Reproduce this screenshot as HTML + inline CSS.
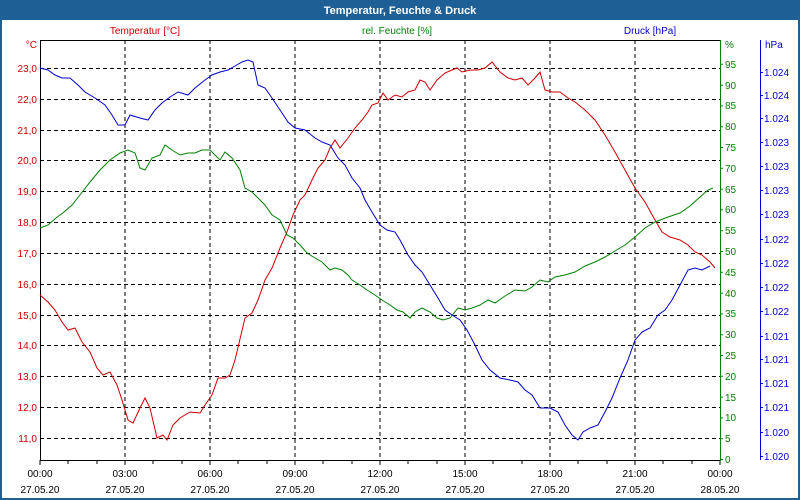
<!DOCTYPE html>
<html><head><meta charset="utf-8"><style>
body{margin:0;background:#fff}
svg{display:block;font-family:"Liberation Sans",sans-serif}
</style></head><body>
<svg width="800" height="500" viewBox="0 0 800 500" xmlns="http://www.w3.org/2000/svg">
<rect x="0" y="0" width="800" height="500" fill="#1e5f96"/>
<rect x="2" y="20" width="796" height="478" fill="#fff"/>
<text x="400" y="14" fill="#fff" font-size="11" font-weight="bold" text-anchor="middle">Temperatur, Feuchte &amp; Druck</text>
<text x="145" y="34" fill="#cc0000" font-size="10" text-anchor="middle">Temperatur [°C]</text>
<text x="397" y="34" fill="#008000" font-size="10" text-anchor="middle">rel. Feuchte [%]</text>
<text x="650" y="34" fill="#0000cc" font-size="10" text-anchor="middle">Druck [hPa]</text>
<g stroke="#000" stroke-dasharray="4,3" stroke-width="1">
<path d="M125 40V460M210 40V460M295 40V460M380 40V460M465 40V460M550 40V460M635 40V460"/>
<path d="M40 68.5H720M40 99.5H720M40 130.5H720M40 160.5H720M40 191.5H720M40 222.5H720M40 253.5H720M40 284.5H720M40 315.5H720M40 345.5H720M40 376.5H720M40 407.5H720M40 438.5H720"/>
</g>
<path d="M40.5 40V460.5H720M40 40.5H720" stroke="#000" fill="none"/>
<g stroke="#000"><path d="M68 460v4M97 460v4M153 460v4M182 460v4M238 460v4M267 460v4M323 460v4M352 460v4M408 460v4M437 460v4M493 460v4M522 460v4M578 460v4M607 460v4M663 460v4M692 460v4M40 460v5M125 460v5M210 460v5M295 460v5M380 460v5M465 460v5M550 460v5M635 460v5M720 460v5"/></g>
<g fill="#cc0000" font-size="10" text-anchor="end">
<text x="37" y="48">°C</text>
<text x="37" y="72">23,0</text><text x="37" y="103">22,0</text><text x="37" y="134">21,0</text><text x="37" y="164">20,0</text><text x="37" y="195">19,0</text><text x="37" y="226">18,0</text><text x="37" y="257">17,0</text><text x="37" y="288">16,0</text><text x="37" y="319">15,0</text><text x="37" y="349">14,0</text><text x="37" y="380">13,0</text><text x="37" y="411">12,0</text><text x="37" y="442">11,0</text>
</g>
<g fill="#000" font-size="10" text-anchor="middle">
<text x="40" y="477">00:00</text><text x="125" y="477">03:00</text><text x="210" y="477">06:00</text><text x="295" y="477">09:00</text><text x="380" y="477">12:00</text><text x="465" y="477">15:00</text><text x="550" y="477">18:00</text><text x="635" y="477">21:00</text><text x="720" y="477">00:00</text>
<text x="40" y="493">27.05.20</text><text x="125" y="493">27.05.20</text><text x="210" y="493">27.05.20</text><text x="295" y="493">27.05.20</text><text x="380" y="493">27.05.20</text><text x="465" y="493">27.05.20</text><text x="550" y="493">27.05.20</text><text x="635" y="493">27.05.20</text><text x="720" y="493">28.05.20</text>
</g>
<path d="M720.5 40V461" stroke="#008000"/>
<g stroke="#008000"><path d="M720 459.5h3M720 438.7h3M720 417.9h3M720 397.1h3M720 376.3h3M720 355.5h3M720 334.7h3M720 313.9h3M720 293.1h3M720 272.3h3M720 251.5h3M720 230.7h3M720 209.9h3M720 189.1h3M720 168.3h3M720 147.5h3M720 126.7h3M720 105.9h3M720 85.1h3M720 64.3h3"/></g>
<g fill="#008000" font-size="10">
<text x="725" y="48">%</text>
<text x="725" y="463">0</text><text x="725" y="442">5</text><text x="725" y="421">10</text><text x="725" y="401">15</text><text x="725" y="380">20</text><text x="725" y="359">25</text><text x="725" y="338">30</text><text x="725" y="317">35</text><text x="725" y="297">40</text><text x="725" y="276">45</text><text x="725" y="255">50</text><text x="725" y="234">55</text><text x="725" y="213">60</text><text x="725" y="193">65</text><text x="725" y="172">70</text><text x="725" y="151">75</text><text x="725" y="130">80</text><text x="725" y="109">85</text><text x="725" y="89">90</text><text x="725" y="68">95</text>
</g>
<path d="M760.5 40V460" stroke="#0000cc"/>
<g stroke="#0000cc"><path d="M760 72.5h3M760 95.5h3M760 118.5h3M760 142.5h3M760 166.5h3M760 190.5h3M760 214.5h3M760 239.5h3M760 263.5h3M760 287.5h3M760 311.5h3M760 336.5h3M760 359.5h3M760 383.5h3M760 407.5h3M760 432.5h3M760 456.5h3"/></g>
<g fill="#0000cc" font-size="10">
<text x="765" y="48">hPa</text>
<text x="764" y="76">1.024</text><text x="764" y="99">1.024</text><text x="764" y="122">1.024</text><text x="764" y="146">1.023</text><text x="764" y="170">1.023</text><text x="764" y="194">1.023</text><text x="764" y="218">1.023</text><text x="764" y="243">1.022</text><text x="764" y="267">1.022</text><text x="764" y="291">1.022</text><text x="764" y="315">1.022</text><text x="764" y="340">1.021</text><text x="764" y="363">1.021</text><text x="764" y="387">1.021</text><text x="764" y="411">1.021</text><text x="764" y="436">1.020</text><text x="764" y="460">1.020</text>
</g>
<polyline fill="none" stroke="#cc0000" points="40,295 48,302 55,310 62,322 68,330 75,328 82,342 90,352 97,368 103,375 110,372 117,385 122,400 128,420 133,423 140,408 145,398 150,408 157,438 163,435 167,440 173,425 180,418 190,412 200,413 205,405 212,395 218,378 225,378 230,375 235,360 245,318 252,313 258,300 265,280 272,268 280,248 287,232 293,215 300,200 305,195 312,180 318,168 325,160 330,148 335,140 340,148 348,138 355,128 362,120 368,112 372,105 378,103 383,93 388,100 395,95 402,97 408,92 415,90 420,80 425,82 430,90 437,80 445,73 452,70 457,68 462,72 470,70 478,70 485,68 492,62 500,72 508,78 515,80 522,78 528,85 535,78 540,72 545,90 552,92 560,92 568,98 575,102 585,110 595,120 605,135 615,152 625,170 635,188 645,202 655,220 662,232 670,237 680,240 688,245 695,252 702,255 710,262 715,268"/>
<polyline fill="none" stroke="#008000" points="40,228 48,225 56,218 64,212 72,205 80,195 90,182 100,170 110,160 120,153 128,150 135,153 140,168 145,170 152,158 160,155 165,145 172,150 180,155 188,153 195,153 202,150 210,150 215,155 220,160 225,152 232,158 240,170 245,188 252,192 258,198 265,205 272,215 280,220 287,235 293,238 300,245 307,253 315,258 322,262 330,270 335,268 342,270 348,275 352,280 360,285 367,290 375,295 382,300 390,305 397,310 403,312 410,318 415,312 422,308 430,312 437,318 443,320 450,318 458,308 465,310 472,308 480,305 488,300 495,303 505,296 515,290 525,291 532,287 540,280 548,282 555,277 565,275 575,272 585,266 595,262 605,257 615,251 625,245 635,237 645,228 655,222 668,217 680,213 690,206 700,197 708,190 713,188"/>
<polyline fill="none" stroke="#0000cc" points="40,68 48,70 55,75 62,78 70,78 78,85 85,92 95,98 105,105 112,115 118,125 125,125 130,115 140,118 148,120 155,110 162,103 170,97 178,92 188,95 195,88 205,80 212,75 220,72 228,70 235,66 242,62 248,60 253,62 258,85 265,88 272,98 280,110 288,122 295,128 305,130 315,138 322,142 330,145 338,158 345,165 352,178 360,188 365,200 372,212 380,225 387,230 395,232 400,240 408,255 415,265 422,272 430,285 438,298 445,310 452,315 460,320 467,330 475,345 482,360 490,370 500,378 510,380 518,382 525,390 532,395 540,408 550,408 558,412 565,425 572,435 578,440 583,432 590,428 598,425 605,412 612,398 620,378 628,360 635,340 642,332 650,328 658,315 665,310 672,300 680,285 688,270 695,268 702,270 710,266"/>
</svg>
</body></html>
